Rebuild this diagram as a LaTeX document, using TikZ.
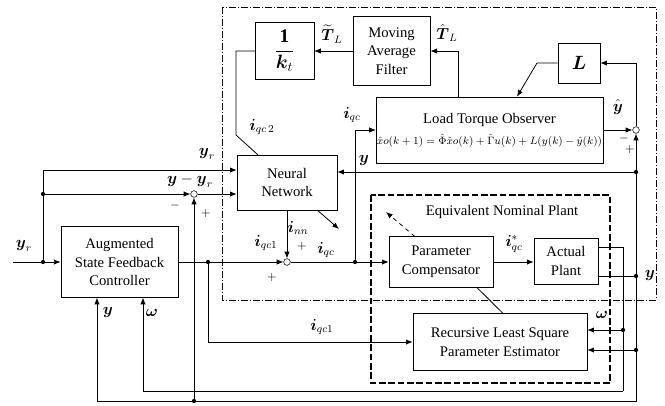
\documentclass[tikz,border=0pt]{standalone}
\usepackage{fontspec}
\setmainfont{Liberation Serif}
\usepackage{amsmath}
\usepackage{amssymb}
\usepackage{tikz}
\usetikzlibrary{arrows.meta}
\tikzset{
    blkbox/.style={draw, thin, rectangle, align=center, inner sep=1pt,
      font=\fontsize{11}{14}\selectfont},
    sumnode/.style={circle, draw, thin, fill=white, minimum size=5pt, inner sep=0pt},
    jdot/.style={circle, fill, minimum size=3.2pt, inner sep=0pt},
    sigline/.style={-{Latex[length=5pt,width=4pt]}, semithick},
    wire/.style={-, semithick},
    siglbl/.style={font=\large, inner sep=1pt},
    signlbl/.style={font=\small, inner sep=0pt},
    outerframe/.style={thin, dash pattern=on 5pt off 1.5pt on 1pt off 1.5pt},
    plantframe/.style={thick, dash pattern=on 5pt off 2pt},
}

\begin{document}
\begin{tikzpicture}[x=0.75pt,y=-0.75pt]
  \useasboundingbox (0,0) rectangle (665,405);
  % FRAMES
  \draw[outerframe] (222,7) rectangle (656,300);
  \draw[plantframe] (371,195) rectangle (610,383);
  \node[font=\fontsize{11}{13}\selectfont] (enp) at (502,212) {Equivalent Nominal Plant};

  % BLOCKS
  \node[blkbox, minimum width=44pt, minimum height=43pt] (kt) at (284.5,51)
    {\Large$\dfrac{\mathbf{1}}{\boldsymbol{k}_t}$};
  \node[blkbox, minimum width=58pt, minimum height=52pt] (maf) at (391.5,51)
    {Moving\\Average\\Filter};
  \node[blkbox, minimum width=31.5pt, minimum height=30pt] (Lbox) at (579,63)
    {\Large$\boldsymbol{L}$};
  \node[blkbox, minimum width=170pt, minimum height=49.5pt, inner sep=0pt] (ltob) at (489.5,130)
    {Load Torque Observer\\[2pt]
     {\fontsize{8.2}{10}\selectfont$\hat{x}o(k+1)=\hat{\Phi}\hat{x}o(k)+\hat{\Gamma}u(k)+L(y(k)-\hat{y}(k))$}};
  \node[blkbox, minimum width=75pt, minimum height=41pt] (nn) at (287,182.5)
    {Neural\\Network};
  \node[blkbox, minimum width=88pt, minimum height=53pt] (asfc) at (119.5,262)
    {Augmented\\State Feedback\\Controller};
  \node[blkbox, minimum width=78pt, minimum height=38pt] (pc) at (441,262)
    {Parameter\\Compensator};
  \node[blkbox, minimum width=48pt, minimum height=34.5pt] (ap) at (566,261)
    {Actual\\Plant};
  \node[blkbox, minimum width=130.5pt, minimum height=43pt] (rls) at (500,342)
    {Recursive Least Square\\Parameter Estimator};

  % JUNCTIONS
  \node[sumnode] (sum1) at (194,194) {};
  \node[sumnode] (sum2) at (287,262) {};
  \node[sumnode] (sum3) at (636,130) {};
  \foreach \n/\x/\y in {dA/43/262, dB/43/194, dC/208/262, dD/355/262,
      yM/636/172, yN/636/276, yR/636/350, yS/194/401, wD/623/330}{
    \node[jdot] (\n) at (\x,\y) {};
  }
  \coordinate (yin) at (13,262);
  \coordinate (ytop) at (43,170);
  \coordinate (wR) at (623,247);
  \coordinate (wB) at (623,391);
  \coordinate (yB) at (636,401);
  \coordinate (Lk) at (537,63);
  \coordinate (ka) at (236,51);
  \coordinate (kb) at (236,135);
  \coordinate (nnadj) at (339,229);
  \coordinate (pcadj) at (386,212);

  % reference and controller
  \draw[sigline] (yin) -- (asfc);
  \draw[sigline] (dA) -- (ytop) -- (ytop -| nn.west);
  \draw[sigline] (dB) -- (sum1);
  \draw[sigline] (sum1) -- (sum1 -| nn.west);
  \draw[sigline] (asfc) -- (sum2);
  \draw[sigline] (dC) |- (rls.west);
  \draw[sigline] (nn) -- (sum2);
  \draw[sigline] (sum2) -- (pc);
  \draw[sigline] (pc) -- (pc -| ap.west);

  % observer loop
  \draw[sigline] (dD) |- (ltob.west);
  \draw[sigline] (ltob) -- (sum3);
  \draw[sigline] (sum3) |- (Lbox);
  \draw[sigline] (Lbox) -- (Lk) -- ([xshift=20.6pt]ltob.north);
  \draw[sigline] ([xshift=-23.6pt]ltob.north) |- (maf);
  \draw[sigline] (maf) -- (kt);
  \draw[wire] (kt) -- (ka) -- (kb) -- ([xshift=-21.75pt]nn.north);

  % plant outputs and feedback
  \draw[wire] ([yshift=10.5pt]ap.east) -- (wR) -- (wB);
  \draw[sigline] (wB) -| ([xshift=17.6pt]asfc.south);
  \draw[sigline] (wD) -- (wD -| rls.east);
  \draw[wire] ([yshift=-11.25pt]ap.east) -- (yN);
  \draw[sigline] (yN) -- (sum3);
  \draw[sigline] (yM) -- (yM -| nn.east);
  \draw[sigline] (yR) -- (yR -| rls.east);
  \draw[sigline] (yN) -- (yB) -| ([xshift=-16.9pt]asfc.south);
  \draw[sigline] (yS) -- (sum1);

  % adaptation
  \draw[sigline] ([xshift=-15pt]nn.south east) -- (nnadj);
  \draw[sigline, dashed] ([xshift=19.5pt]pc.north west) -- (pcadj);
  \draw[wire] ([xshift=2pt]rls.north) -- ([xshift=27pt]pc.south);

  % LABELS
  \node[siglbl] (lyr0) at (24,246) {$\boldsymbol{y}_r$};
  \node[siglbl] (lyr1) at (207,154) {$\boldsymbol{y}_r$};
  \node[siglbl] (lyr2) at (190,181) {$\boldsymbol{y}-\boldsymbol{y}_r$};
  \node[siglbl] (liq2) at (262,127) {$\boldsymbol{i}_{qc\,2}$};
  \node[siglbl] (ltt) at (332,34) {$\widetilde{\boldsymbol{T}}_L$};
  \node[siglbl] (lth) at (447,33) {$\hat{\boldsymbol{T}}_L$};
  \node[siglbl] (liqo) at (352,115) {$\boldsymbol{i}_{qc}$};
  \node[siglbl] (lyh) at (618,107) {$\hat{\boldsymbol{y}}$};
  \node[siglbl] (lynn) at (364,160) {$\boldsymbol{y}$};
  \node[siglbl] (linn) at (298,228) {$\boldsymbol{i}_{nn}$};
  \node[siglbl] (liq1) at (266,243) {$\boldsymbol{i}_{qc1}$};
  \node[siglbl] (liq) at (326,250) {$\boldsymbol{i}_{qc}$};
  \node[siglbl] (liqs) at (514,244) {$\boldsymbol{i}^{*}_{qc}$};
  \node[siglbl] (lyap) at (650,275) {$\boldsymbol{y}$};
  \node[siglbl] (lwap) at (602,315) {$\boldsymbol{\omega}$};
  \node[siglbl] (liqr) at (322,327) {$\boldsymbol{i}_{qc1}$};
  \node[siglbl] (lyc) at (108,312) {$\boldsymbol{y}$};
  \node[siglbl] (lwc) at (152,313) {$\boldsymbol{\omega}$};
  \foreach \n/\x/\y/\s in {m1/175/205/-, p1/206/213/+, m3/624/138/-,
      p3/630/149/+, p2a/302/246/+, p2b/272/277/+}{
    \node[signlbl] (\n) at (\x,\y) {$\s$};
  }
\end{tikzpicture}
\end{document}
